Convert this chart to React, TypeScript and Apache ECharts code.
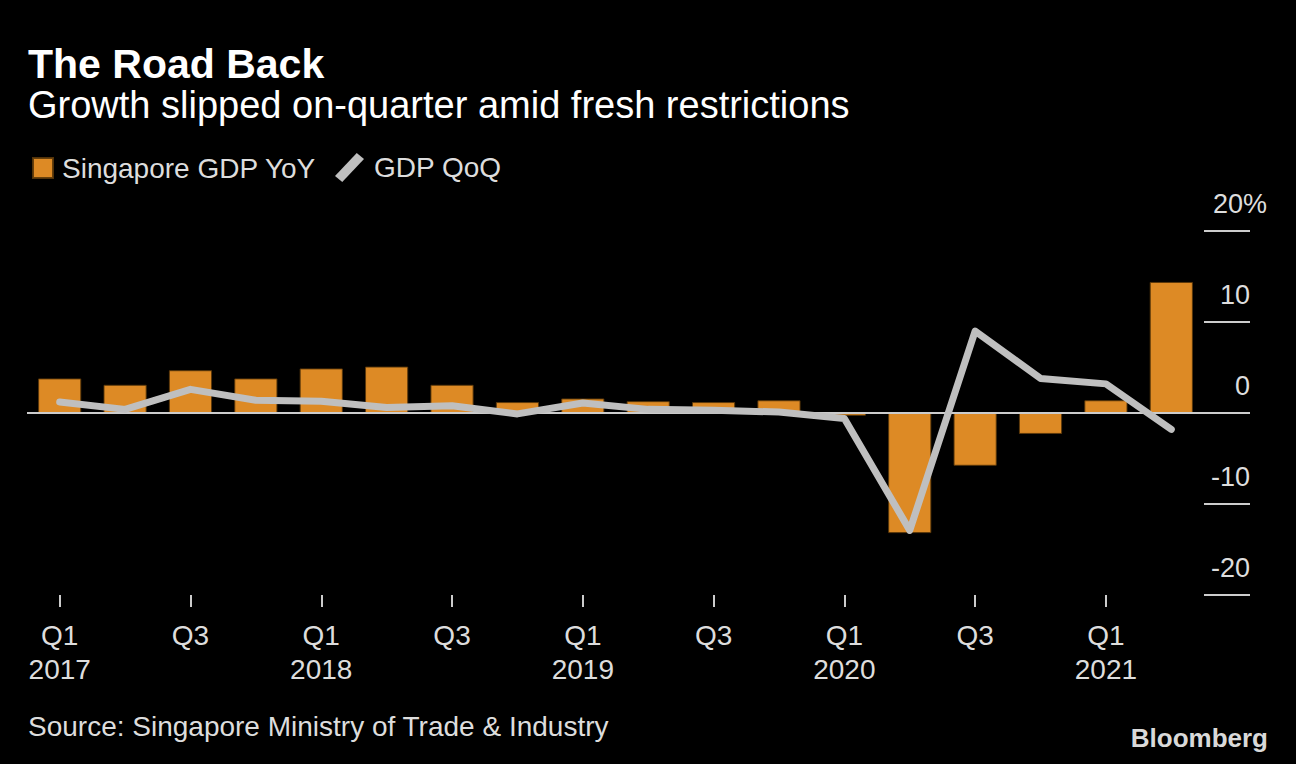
import React, { useEffect, useRef } from "react";
import * as echarts from "echarts";

const categories = [
  "Q1 2017", "Q2 2017", "Q3 2017", "Q4 2017",
  "Q1 2018", "Q2 2018", "Q3 2018", "Q4 2018",
  "Q1 2019", "Q2 2019", "Q3 2019", "Q4 2019",
  "Q1 2020", "Q2 2020", "Q3 2020", "Q4 2020",
  "Q1 2021", "Q2 2021",
];

const gdpYoY = [3.8, 3.1, 4.7, 3.8, 4.9, 5.1, 3.1, 1.2, 1.6, 1.3, 1.2, 1.4, -0.3, -13.2, -5.8, -2.3, 1.4, 14.4];
const gdpQoQ = [1.2, 0.4, 2.6, 1.4, 1.3, 0.6, 0.8, -0.1, 1.1, 0.4, 0.3, 0.1, -0.6, -12.9, 9.0, 3.8, 3.2, -1.8];

const yTicks = [-20, -10, 0, 10, 20];

const TITLE = "The Road Back";
const SUBTITLE = "Growth slipped on-quarter amid fresh restrictions";
const SOURCE = "Source: Singapore Ministry of Trade & Industry";
const SERIES_YOY = "Singapore GDP YoY";
const SERIES_QOQ = "GDP QoQ";

const FONT = '"Liberation Sans", Arial, sans-serif';
const ORANGE = "#DD8A25";
const GREY_LINE = "#BFBFBF";
const TEXT = "#DDDDDD";

export default function App() {
  const ref = useRef<HTMLDivElement>(null);

  useEffect(() => {
    if (!ref.current) return;
    const chart = echarts.init(ref.current, undefined, { renderer: "svg" });
    const yMin = yTicks[0];
    const yMax = yTicks[yTicks.length - 1];
    const labelBase = {
      color: TEXT,
      fontFamily: FONT,
      fontSize: 27,
      align: "right",
      verticalAlign: "bottom",
      padding: [0, 0, 14, 0],
    };
    const legendText = { fontFamily: FONT, fontSize: 28, color: TEXT };
    const option = {
      animation: false,
      backgroundColor: "#000000",
      textStyle: { fontFamily: FONT },
      title: [
        {
          text: TITLE,
          left: 28,
          top: 43,
          padding: 0,
          textStyle: { fontFamily: FONT, fontSize: 41, fontWeight: "bold", color: "#FFFFFF" },
        },
        {
          text: SUBTITLE,
          left: 28,
          top: 86,
          padding: 0,
          textStyle: { fontFamily: FONT, fontSize: 38, fontWeight: "normal", color: "#FFFFFF" },
        },
        {
          text: SOURCE,
          left: 28,
          top: 712,
          padding: 0,
          textStyle: { fontFamily: FONT, fontSize: 28, fontWeight: "normal", color: TEXT },
        },
      ],
      legend: [
        {
          left: 32,
          top: 154,
          padding: 0,
          itemWidth: 20,
          itemHeight: 20,
          selectedMode: false,
          textStyle: { ...legendText, padding: [0, 0, 0, 4] },
          data: [{ name: SERIES_YOY, icon: "rect" }],
        },
        {
          left: 335,
          top: 153,
          padding: 0,
          itemWidth: 29,
          itemHeight: 29,
          selectedMode: false,
          textStyle: { ...legendText, padding: [0, 0, 0, 5] },
          data: [{ name: SERIES_QOQ, icon: "path://M18,0 L24,5 L6,24 L0,19 Z" }],
        },
      ],
      grid: { left: 27, right: 92, top: 231, bottom: 169, containLabel: false },
      xAxis: {
        type: "category",
        data: categories,
        axisLine: { show: false, onZero: false },
        axisTick: {
          show: true,
          interval: 1,
          alignWithLabel: true,
          length: 12,
          lineStyle: { color: "#CCCCCC", width: 2 },
        },
        axisLabel: {
          interval: 1,
          margin: 23,
          color: TEXT,
          fontFamily: FONT,
          fontSize: 28,
          lineHeight: 34,
          formatter: (v: string) => {
            const [q, y] = v.split(" ");
            return q === "Q1" ? q + "\n" + y : q;
          },
        },
        splitLine: { show: false },
      },
      yAxis: [
        {
          type: "value",
          position: "right",
          min: yMin,
          max: yMax,
          interval: 10,
          axisLine: { show: false },
          axisTick: { show: true, length: 46, lineStyle: { color: "#CCCCCC", width: 2 } },
          splitLine: { show: false },
          axisLabel: {
            margin: 46,
            ...labelBase,
            formatter: (v: number) => (v === yMax ? "" : String(v)),
          },
        },
        {
          type: "value",
          position: "right",
          min: yMin,
          max: yMax,
          interval: 10,
          axisLine: { show: false },
          axisTick: { show: false },
          splitLine: { show: false },
          axisLabel: {
            margin: 63,
            ...labelBase,
            formatter: (v: number) => (v === yMax ? v + "%" : ""),
          },
        },
      ],
      series: [
        {
          name: SERIES_YOY,
          type: "bar",
          data: gdpYoY,
          yAxisIndex: 0,
          barCategoryGap: "34%",
          itemStyle: { color: ORANGE, borderColor: "rgba(90,55,10,0.9)", borderWidth: 1 },
          z: 2,
          markLine: {
            silent: true,
            symbol: "none",
            label: { show: false },
            lineStyle: { color: "#CCCCCC", width: 2, type: "solid" },
            data: [{ yAxis: 0 }],
            z: 3,
          },
        },
        {
          name: SERIES_QOQ,
          type: "line",
          data: gdpQoQ,
          yAxisIndex: 0,
          symbol: "none",
          itemStyle: { color: GREY_LINE },
          lineStyle: { color: GREY_LINE, width: 7, cap: "round", join: "round" },
          z: 4,
        },
      ],
      graphic: [
        {
          type: "text",
          x: 1268,
          y: 738,
          style: {
            text: "Bloomberg",
            align: "right",
            verticalAlign: "middle",
            fontFamily: FONT,
            fontSize: 26,
            fontWeight: "bold",
            fill: "#D9D9D9",
          },
        },
      ],
    };
    chart.setOption(option as any);
    return () => chart.dispose();
  }, []);

  return (
    <div
      ref={ref}
      style={{ position: "fixed", left: 0, top: 0, width: 1296, height: 764, background: "#000" }}
    />
  );
}
